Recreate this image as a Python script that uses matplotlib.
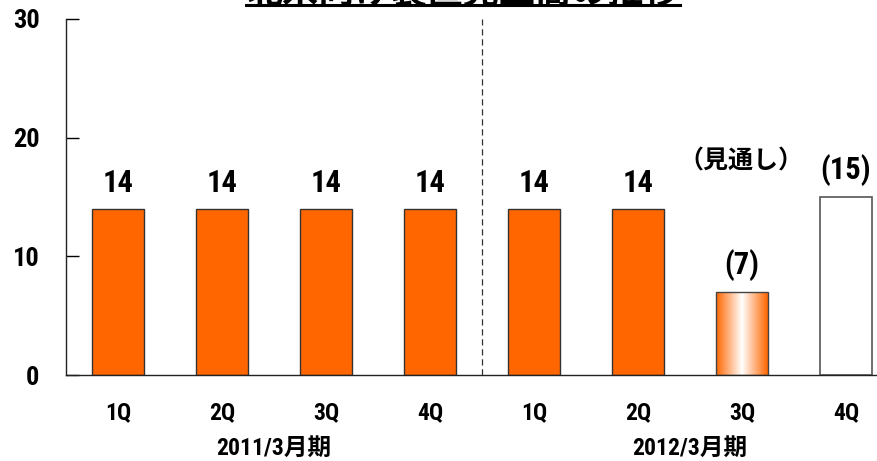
import matplotlib
matplotlib.use("Agg")
import matplotlib.pyplot as plt
import numpy as np
from matplotlib.colors import LinearSegmentedColormap

# ---- data ----
title = "北米向け装置売上高の推移"
quarters = ["1Q", "2Q", "3Q", "4Q", "1Q", "2Q", "3Q", "4Q"]
values = [14, 14, 14, 14, 14, 14, 7, 15]
value_labels = ["14", "14", "14", "14", "14", "14", "(7)", "(15)"]
bar_kind = ["actual"] * 6 + ["forecast_grad", "forecast_plan"]
periods = ["2011/3月期", "2012/3月期"]
forecast_note = "（見通し）"
yticks = [0, 10, 20, 30]

ORANGE = "#FF6600"
NUMF = ["Roboto Condensed", "Noto Sans CJK JP", "DejaVu Sans"]
JPF = ["Noto Sans CJK JP", "DejaVu Sans"]

fig = plt.figure(figsize=(8.77, 4.61), dpi=100)
W, H = 877, 461
ax = fig.add_axes([66 / W, 1 - 375 / H, (898 - 66) / W, (375 - 19) / H])
x = np.arange(len(values))
bw = 0.5

for i, (v, k) in enumerate(zip(values, bar_kind)):
    if k == "actual":
        ax.bar(i, v, width=bw, color=ORANGE, edgecolor="#333333", linewidth=1.0, zorder=2)
    elif k == "forecast_plan":
        ax.bar(i, v, width=bw, color="white", edgecolor="#555555", linewidth=1.2, zorder=2)
    else:
        b = ax.bar(i, v, width=bw, color="none", edgecolor="#444444", linewidth=1.0, zorder=3)[0]
        cmap = LinearSegmentedColormap.from_list("g", [(0, ORANGE), (0.5, "#FFFFFF"), (1, ORANGE)])
        grad = np.linspace(0, 1, 256).reshape(1, -1)
        im = ax.imshow(grad, cmap=cmap, aspect="auto",
                       extent=(i - bw / 2, i + bw / 2, 0, v), zorder=2)
        im.set_clip_path(b)

ax.set_xlim(-0.5, len(values) - 0.5)
ax.set_ylim(0, 30)
ax.set_yticks(yticks)
ax.set_yticklabels([str(t) for t in yticks], fontsize=19, fontweight="bold", family=NUMF)
ax.tick_params(axis="y", direction="in", length=9, width=1, pad=19, colors="#000000")
ax.set_xticks([])
for s in ["top", "right"]:
    ax.spines[s].set_visible(False)
for s in ["left", "bottom"]:
    ax.spines[s].set_linewidth(1.0)
    ax.spines[s].set_color("#222222")

# divider
ax.axvline(3.5, color="#333333", linestyle=(0, (5, 3)), linewidth=0.9, zorder=1)

# value labels
for i, (v, lab) in enumerate(zip(values, value_labels)):
    ax.annotate(lab, (i, v), xytext=(0, 8), textcoords="offset points",
                ha="center", va="bottom", fontsize=22, fontweight="bold", family=NUMF)

# forecast note
ax.annotate(forecast_note, (6, 15), xytext=(-1, 17), textcoords="offset points",
            ha="center", va="bottom", fontsize=18, fontweight="bold", family=JPF)

# quarter labels
for i, q in enumerate(quarters):
    ax.text(i, -3.2, q, ha="center", va="center", fontsize=17, fontweight="bold", family=NUMF)
for g, p in enumerate(periods):
    ax.text(1.5 + 4 * g, -6.2, p, ha="center", va="center", fontsize=17, fontweight="bold", family=NUMF)

# title (cut at the top like the reference)
t = fig.text(463 / W, 1 - 3 / H, title, ha="center", va="baseline",
             fontsize=26, fontweight="bold", family=JPF)
fig.canvas.draw()
bb = t.get_window_extent()
fig.add_artist(plt.Line2D([bb.x0 / W, bb.x1 / W], [1 - 5 / H, 1 - 5 / H],
                          transform=fig.transFigure, color="black", linewidth=2.2))

fig.savefig("out.png", dpi=100)
